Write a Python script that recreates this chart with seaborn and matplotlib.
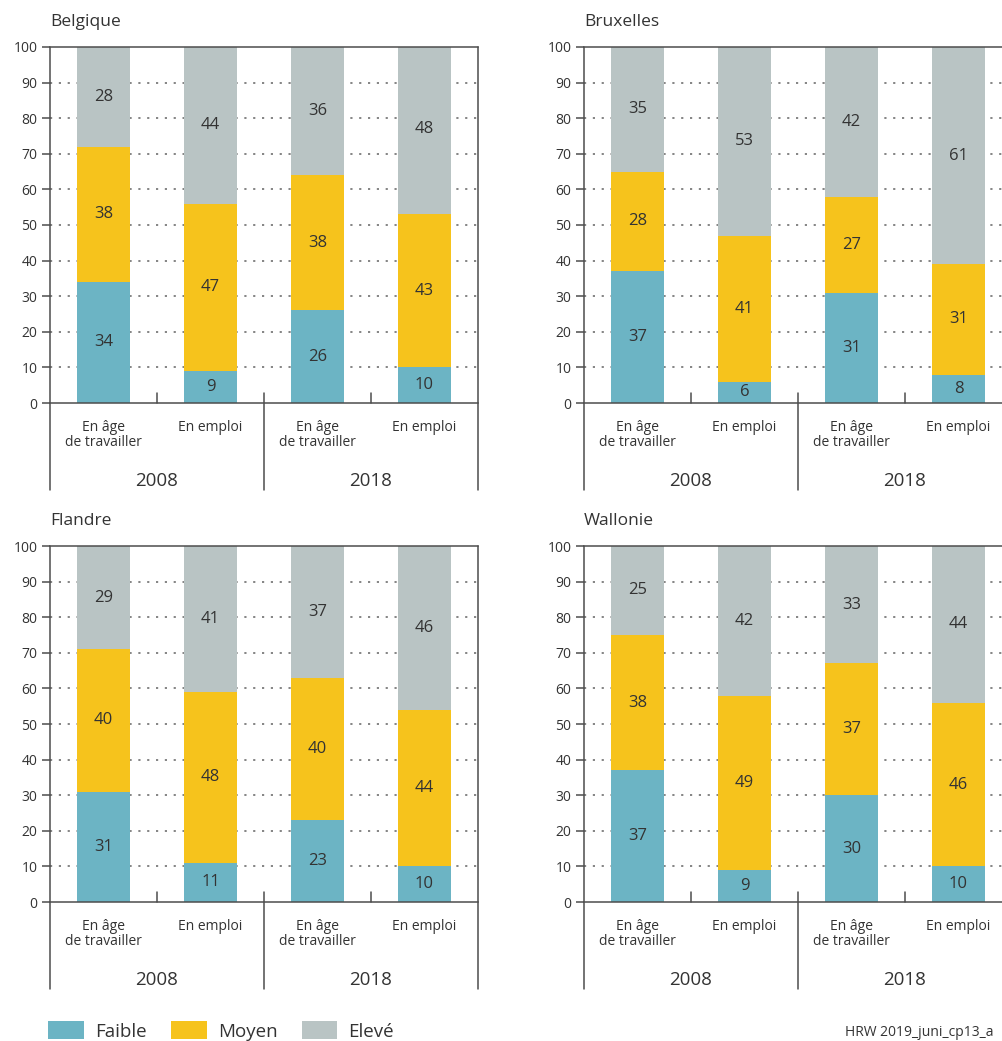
import numpy as np
import pandas as pd
import matplotlib.pyplot as plt
import matplotlib.transforms as mtransforms
import seaborn as sns
from matplotlib.patches import Patch

# =========================
# data
# =========================
regions = ["Belgique", "Bruxelles", "Flandre", "Wallonie"]
slots = ["age_2008", "emploi_2008", "age_2018", "emploi_2018"]
group_labels = ["En âge\nde travailler", "En emploi", "En âge\nde travailler", "En emploi"]
years = ["2008", "2018"]
levels = ["Faible", "Moyen", "Elevé"]

faible = {
    "Belgique": [34, 9, 26, 10],
    "Bruxelles": [37, 6, 31, 8],
    "Flandre": [31, 11, 23, 10],
    "Wallonie": [37, 9, 30, 10],
}
moyen = {
    "Belgique": [38, 47, 38, 43],
    "Bruxelles": [28, 41, 27, 31],
    "Flandre": [40, 48, 40, 44],
    "Wallonie": [38, 49, 37, 46],
}
eleve = {
    "Belgique": [28, 44, 36, 48],
    "Bruxelles": [35, 53, 42, 61],
    "Flandre": [29, 41, 37, 46],
    "Wallonie": [25, 42, 33, 44],
}

colors = ["#6cb4c4", "#f6c31c", "#b9c4c4"]
line_col = "#4d4d4d"
text_col = "#333333"

# =========================
# figure
# =========================
sns.set_style("white")
plt.rcParams["font.family"] = ["Open Sans", "DejaVu Sans"]

W, H = 1003, 1041
fig = plt.figure(figsize=(W / 100, H / 100), dpi=100)

# panel boxes in pixels: left, zero-line y
boxes = [(50, 403), (584, 403), (50, 902), (584, 902)]
pw, ph = 428, 356

for region, (left, zero_y) in zip(regions, boxes):
    ax = fig.add_axes([left / W, (H - zero_y) / H, pw / W, ph / H])

    df = pd.DataFrame({
        "slot": slots,
        "faible": faible[region],
        "moyen": moyen[region],
        "eleve": eleve[region],
    })
    df["mid"] = df["faible"] + df["moyen"]
    df["top"] = df["mid"] + df["eleve"]

    # stacked bars drawn from the top layer down
    for col, c in zip(["top", "mid", "faible"], colors[::-1]):
        sns.barplot(data=df, x="slot", y=col, order=slots, color=c, width=0.5,
                    saturation=1, linewidth=0, errorbar=None, ax=ax, zorder=2)

    ax.set_xlim(-0.5, 3.5)
    ax.set_ylim(0, 100)
    ax.set_xlabel("")
    ax.set_ylabel("")

    # dotted grid
    for y in range(10, 100, 10):
        ax.axhline(y, color="#6f6f6f", lw=1.2, ls=(0, (1.3, 4.0)), zorder=1)

    # value labels
    for i in range(len(slots)):
        bottom = 0
        for col in ["faible", "moyen", "eleve"]:
            v = df[col].iloc[i]
            ax.text(i, bottom + v / 2, str(v), ha="center", va="center",
                    fontsize=12, color=text_col, zorder=3)
            bottom += v

    # axes styling
    ax.set_yticks(range(0, 101, 10))
    ax.tick_params(axis="y", length=6, width=1.1, color=line_col,
                   labelsize=10, labelcolor=text_col, pad=3, left=True)
    ax.set_xticks(range(len(slots)))
    ax.set_xticklabels(group_labels, fontsize=10, color=text_col, linespacing=1.05)
    ax.tick_params(axis="x", length=0, pad=12)

    for s in ["left", "right"]:
        ax.spines[s].set_visible(False)
    for s in ["top", "bottom"]:
        ax.spines[s].set_color(line_col)
        ax.spines[s].set_linewidth(1.1)

    trans = mtransforms.blended_transform_factory(ax.transData, ax.transAxes)
    low = -87 / ph
    for x in [-0.5, 3.5, 1.5]:
        y1 = 1 if x != 1.5 else 10 / ph
        ax.plot([x, x], [low, y1], color=line_col, lw=1.1, transform=trans,
                clip_on=False, zorder=4)
    for x in [0.5, 2.5]:
        ax.plot([x, x], [0, 10 / ph], color=line_col, lw=1.1, transform=trans,
                clip_on=False, zorder=4)

    # year labels
    for k, yr in enumerate(years):
        ax.text(0.5 + 2 * k, -78 / ph, yr, transform=trans, ha="center", va="center",
                fontsize=13.5, color=text_col)

    # panel title
    ax.text(0, 1 + 25 / ph, region, transform=ax.transAxes, ha="left", va="center",
            fontsize=12.5, color=text_col)

# legend
handles = [Patch(facecolor=c, edgecolor="none", label=l) for c, l in zip(colors, levels)]
fig.legend(handles=handles, loc="center left", bbox_to_anchor=(48 / W, 10 / H),
           ncol=3, frameon=False, fontsize=13.5, handlelength=1.9, handleheight=1.05,
           handletextpad=0.6, columnspacing=1.3, borderpad=0, borderaxespad=0,
           labelcolor=text_col)

# source note (truncated at the right edge in the reference)
fig.text(845 / W, 8 / H, "HRW 2019_juni_cp13_a", ha="left", va="center",
         fontsize=10, color=text_col)

fig.savefig("out.png", dpi=100)
